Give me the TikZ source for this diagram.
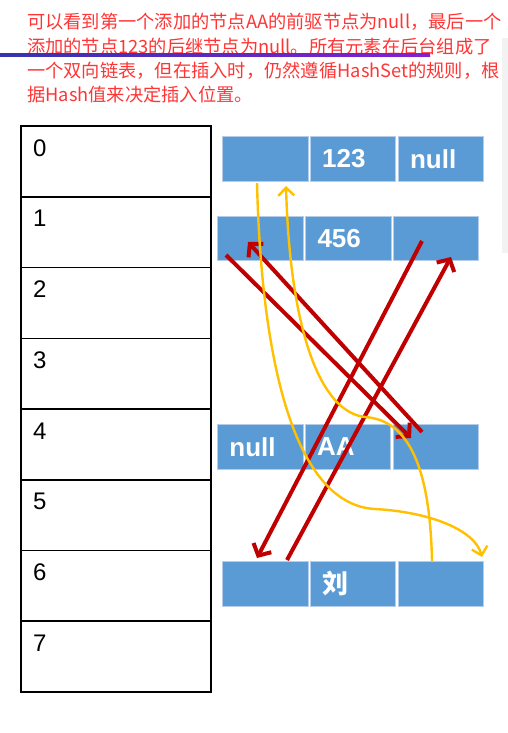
\documentclass[tikz,border=0pt]{standalone}
\usepackage{fontspec}
\setmainfont{Liberation Sans}
\newfontfamily\cjk{Noto Sans CJK SC}
\usepackage{xcolor}
\usetikzlibrary{arrows.meta, positioning}

\definecolor{cellblue}{HTML}{5B9BD5}
\definecolor{celledge}{HTML}{B4CDEA}
\definecolor{linkred}{HTML}{C00000}
\definecolor{linkgold}{HTML}{FFC000}
\definecolor{notered}{HTML}{FF3535}
\definecolor{penblue}{HTML}{3434B0}

\begin{document}
\begin{tikzpicture}[
  x=1pt, y=-1pt,
  slot/.style={draw, line width=1.5pt, minimum width=190pt, minimum height=70.7pt,
               anchor=north west, inner sep=0pt},
  idx/.style={anchor=north west, inner sep=0pt, font=\fontsize{24}{24}\selectfont,
              xshift=13pt, yshift=-14pt},
  cell/.style={draw=celledge, line width=0.8pt, fill=cellblue, text=white,
               minimum height=44.7pt, text width=61.5pt, inner xsep=12pt, inner ysep=0pt,
               align=left, font=\fontsize{26}{26}\selectfont\bfseries},
  first/.style={cell, anchor=north west},
  red arr/.style={-{Straight Barb[length=9pt, width=20pt]}, linkred, line width=4pt},
  gold arr/.style={-{Straight Barb[length=8pt, width=16pt]}, linkgold, line width=2.4pt},
  node distance=1.5pt
]
  \useasboundingbox (0,0) rectangle (508,733);

  % note at the top
  \fill[gray!10] (502,38) rectangle (508,253);
  \node[anchor=north west, inner sep=0pt, text=notered, align=left,
        font=\cjk\fontsize{18.25}{24.4}\selectfont] (note) at (27,13)
    {可以看到第一个添加的节点AA的前驱节点为null，最后一个\\
     添加的节点123的后继节点为null。所有元素在后台组成了\\
     一个双向链表，但在插入时，仍然遵循HashSet的规则，根\\
     据Hash值来决定插入位置。};
  \shade[left color=penblue, right color=penblue!60!magenta] (0,54) rectangle (430,57);

  % hash table
  \foreach \i in {0,...,7}{
    \node[slot, label={[idx]north west:\i}] (s\i) at (20,125.5+\i*70.7) {};
  }

  % linked nodes
  \node[first] (n1p) at (222,136) {};
  \node[cell, right=of n1p] (n1v) {123};
  \node[cell, right=of n1v] (n1n) {null};

  \node[first] (n2p) at (217.3,215.7) {};
  \node[cell, right=of n2p] (n2v) {456};
  \node[cell, right=of n2v] (n2n) {};

  \node[first] (n3p) at (217,424.3) {null};
  \node[cell, right=of n3p] (n3v) {AA};
  \node[cell, right=of n3v] (n3n) {};

  \node[first] (n4p) at (222,561) {};
  \node[cell, right=of n4p] (n4v) {\cjk 刘};
  \node[cell, right=of n4v] (n4n) {};

  % link ends
  \coordinate (a1) at (226,255);   \coordinate (a2) at (411,438);
  \coordinate (b1) at (422,432);   \coordinate (b2) at (248,242);
  \coordinate (c1) at (422,241);   \coordinate (c2) at (257,558);
  \coordinate (d1) at (287,560);   \coordinate (d2) at (451,257);
  \coordinate (e1) at (257,183);   \coordinate (e2) at (482,557);
  \coordinate (f1) at (432,561);   \coordinate (f2) at (286,186);

  \draw[red arr] (a1) -- (a2);
  \draw[red arr] (b1) -- (b2);
  \draw[red arr] (c1) -- (c2);
  \draw[red arr] (d1) -- (d2);

  \draw[gold arr] (e1) .. controls (262,380) and (300,505) .. (375,509)
                       .. controls (430,512) and (475,530) .. (e2);
  \draw[gold arr] (f1) .. controls (430,470) and (410,420) .. (365,417)
                       .. controls (320,412) and (290,330) .. (f2);
\end{tikzpicture}
\end{document}
